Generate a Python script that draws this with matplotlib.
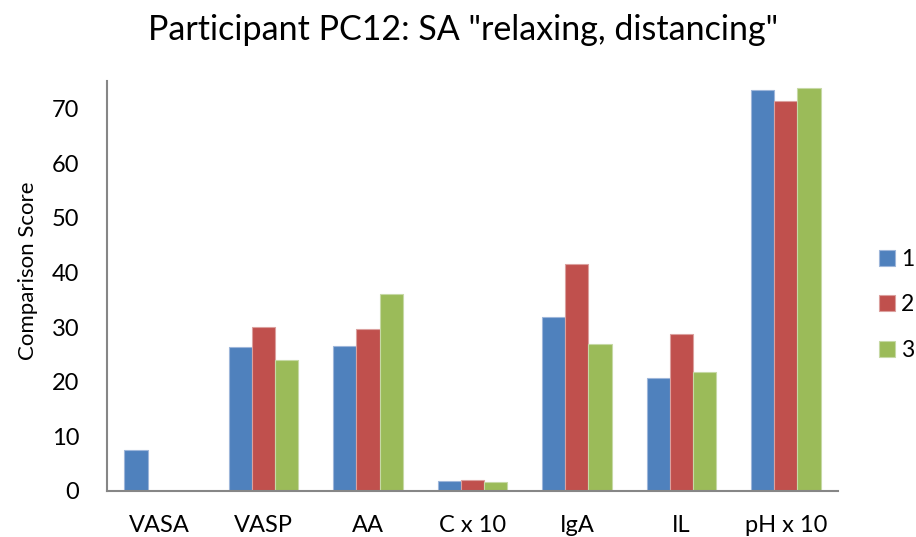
import numpy as np
import matplotlib
matplotlib.use('Agg')
import matplotlib.pyplot as plt

plt.rcParams['font.family'] = ['Lato', 'DejaVu Sans']

categories = ['VASA', 'VASP', 'AA', 'C x 10', 'IgA', 'IL', 'pH x 10']
series_names = ['1', '2', '3']
s1 = [7.5, 26.4, 26.6, 1.8, 31.8, 20.6, 73.4]
s2 = [0.0, 30.0, 29.6, 2.0, 41.6, 28.8, 71.3]
s3 = [0.0, 23.9, 36.0, 1.7, 26.9, 21.7, 73.8]
colors = ['#4F81BD', '#C0504D', '#9BBB59']
edges = ['#9DB6DA', '#DBA09E', '#C6D9A5']

fig = plt.figure(figsize=(9.16, 5.37), dpi=100)
ax = fig.add_axes([0.1168, 0.0857, 0.798, 0.763])

x = np.arange(len(categories))
w = 0.222
for i, vals in enumerate([s1, s2, s3]):
    ax.bar(x + (i - 1) * w, vals, width=w, color=colors[i],
           edgecolor=edges[i], linewidth=0.8, label=series_names[i])

ax.set_xlim(-0.5, len(categories) - 0.5)
ax.set_ylim(0, 75)
ax.set_yticks(range(0, 71, 10))
ax.set_xticks(x)
ax.set_xticklabels(categories)
ax.tick_params(axis='both', length=0, labelsize=17, colors='black')
ax.tick_params(axis='y', pad=20)
ax.tick_params(axis='x', pad=17)
for side in ['top', 'right']:
    ax.spines[side].set_visible(False)
for side in ['left', 'bottom']:
    ax.spines[side].set_color('#868686')
    ax.spines[side].set_linewidth(1.5)

ax.set_ylabel('Comparison Score', fontsize=16, labelpad=10, y=0.537)
fig.text(0.505, 0.944, 'Participant PC12: SA "relaxing, distancing"',
         fontsize=24.5, ha='center', va='center')

ax.legend(loc='center left', bbox_to_anchor=(1.056, 0.454), frameon=False,
          fontsize=16.5, handlelength=0.7, handleheight=0.7,
          handletextpad=0.25, labelspacing=1.08, borderpad=0, borderaxespad=0)

fig.savefig('out.png', dpi=100)
